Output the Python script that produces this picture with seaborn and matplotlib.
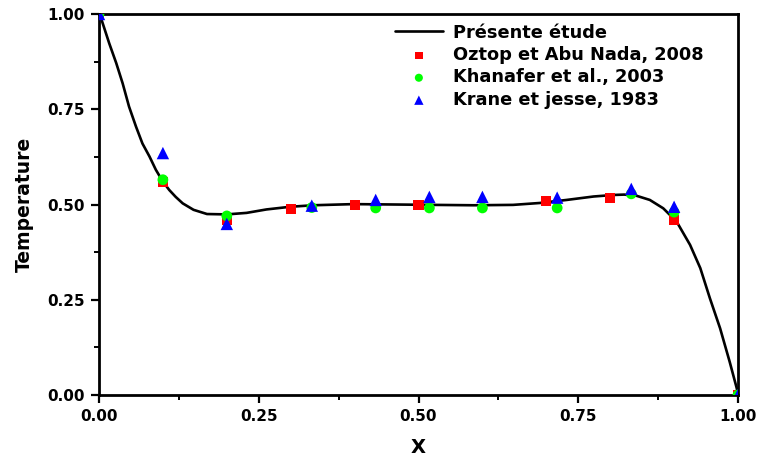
import numpy as np
import pandas as pd
import matplotlib
matplotlib.use("Agg")
import matplotlib.pyplot as plt
import seaborn as sns
from matplotlib.ticker import MultipleLocator

# ---- data ----
curve_x = [0.0, 0.003, 0.016, 0.027, 0.037, 0.047, 0.058, 0.068, 0.079, 0.089, 0.1,
           0.110, 0.120, 0.131, 0.148, 0.169, 0.200, 0.231, 0.262, 0.299, 0.335,
           0.398, 0.461, 0.523, 0.586, 0.648, 0.690, 0.732, 0.774, 0.805, 0.822,
           0.841, 0.862, 0.883, 0.904, 0.925, 0.941, 0.956, 0.972, 0.987, 0.998, 1.0]
curve_y = [1.0, 0.99, 0.923, 0.871, 0.818, 0.757, 0.704, 0.660, 0.626, 0.591, 0.560,
           0.538, 0.520, 0.503, 0.486, 0.475, 0.474, 0.478, 0.487, 0.494, 0.498,
           0.501, 0.500, 0.499, 0.498, 0.499, 0.504, 0.512, 0.521, 0.525, 0.526,
           0.523, 0.512, 0.490, 0.455, 0.394, 0.333, 0.254, 0.175, 0.087, 0.018, 0.0]

oztop_x = [0.0, 0.1, 0.2, 0.3, 0.4, 0.5, 0.7, 0.8, 0.9, 1.0]
oztop_y = [1.0, 0.559, 0.459, 0.488, 0.499, 0.499, 0.509, 0.517, 0.459, 0.0]

khan_x = [0.0, 0.1, 0.2, 0.333, 0.433, 0.517, 0.6, 0.717, 0.833, 0.9, 1.0]
khan_y = [1.0, 0.565, 0.47, 0.492, 0.491, 0.491, 0.491, 0.491, 0.528, 0.48, 0.0]

krane_x = [0.0, 0.1, 0.2, 0.333, 0.433, 0.517, 0.6, 0.717, 0.833, 0.9, 1.0]
krane_y = [1.0, 0.635, 0.449, 0.497, 0.512, 0.52, 0.52, 0.518, 0.541, 0.494, 0.0]

labels = ["Présente étude", "Oztop et Abu Nada, 2008",
          "Khanafer et al., 2003", "Krane et jesse, 1983"]
x_ticks = [0.0, 0.25, 0.5, 0.75, 1.0]
y_ticks = [0.0, 0.25, 0.5, 0.75, 1.0]

sns.set_style("ticks")
plt.rcParams["font.family"] = ["DejaVu Sans"]
plt.rcParams["font.weight"] = "bold"
plt.rcParams["text.color"] = "black"
plt.rcParams["axes.labelcolor"] = "black"
plt.rcParams["xtick.color"] = "black"
plt.rcParams["ytick.color"] = "black"

fig = plt.figure(figsize=(7.61, 4.63), dpi=100)
ax = fig.add_axes([99 / 761, 1 - 395 / 463, (738 - 99) / 761, (395 - 14) / 463])

df_curve = pd.DataFrame({"x": curve_x, "y": curve_y})
sns.lineplot(data=df_curve, x="x", y="y", ax=ax, color="black", linewidth=1.9,
             label=labels[0], zorder=2, sort=False)

sns.scatterplot(x=oztop_x, y=oztop_y, ax=ax, marker="s", s=52, color="#FF0000",
                edgecolor="none", label=labels[1], zorder=3)
sns.scatterplot(x=khan_x, y=khan_y, ax=ax, marker="o", s=60, color="#00FF00",
                edgecolor="none", label=labels[2], zorder=4)
sns.scatterplot(x=krane_x, y=krane_y, ax=ax, marker="^", s=80, color="#0000FF",
                edgecolor="none", label=labels[3], zorder=5)

ax.set_xlim(0, 1)
ax.set_ylim(0, 1)
ax.set_xticks(x_ticks)
ax.set_yticks(y_ticks)
ax.set_xticklabels([f"{v:.2f}" for v in x_ticks])
ax.set_yticklabels([f"{v:.2f}" for v in y_ticks])
ax.xaxis.set_minor_locator(MultipleLocator(0.125))
ax.yaxis.set_minor_locator(MultipleLocator(0.125))
ax.tick_params(which="major", direction="out", length=6, width=1.6, labelsize=11,
               pad=4, colors="black")
ax.tick_params(which="minor", direction="out", length=3.5, width=1.4)
for lab in ax.get_xticklabels() + ax.get_yticklabels():
    lab.set_fontweight("bold")

for sp in ax.spines.values():
    sp.set_visible(True)
    sp.set_linewidth(2)
    sp.set_color("black")

ax.set_xlabel("X", fontsize=14, fontweight="bold", labelpad=10, color="black")
ax.set_ylabel("Temperature", fontsize=13.5, fontweight="bold", labelpad=10, color="black")

leg = ax.legend(loc="upper left", bbox_to_anchor=(0.463, 0.975), frameon=False,
                prop={"weight": "bold", "size": 12.8}, handlelength=2.7,
                handletextpad=0.55, labelspacing=0.25, borderpad=0,
                borderaxespad=0, markerscale=0.75)
for t in leg.get_texts():
    t.set_color("black")

fig.savefig("out.png", dpi=100)
